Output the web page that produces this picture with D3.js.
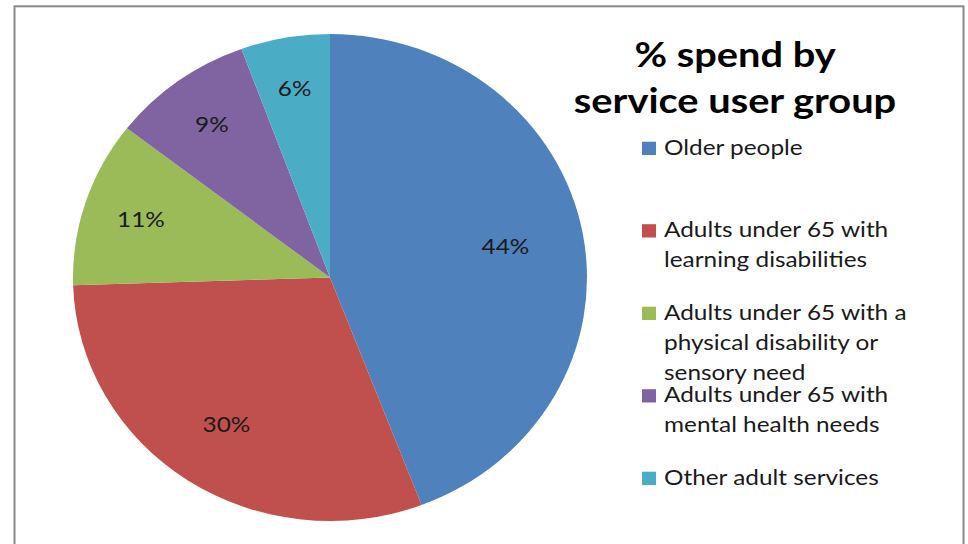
<!DOCTYPE html>
<html><head><meta charset="utf-8">
<script src="https://cdn.jsdelivr.net/npm/d3@7"></script>
<style>html,body{margin:0;padding:0;background:#fff;}svg{display:block;}</style>
</head><body>
<svg id="c" width="968" height="544"></svg>
<script>
const categories = ["Older people","Adults under 65 with learning disabilities","Adults under 65 with a physical disability or sensory need","Adults under 65 with mental health needs","Other adult services"];
const legendLines = [["Older people"],["Adults under 65 with","learning disabilities"],["Adults under 65 with a","physical disability or","sensory need"],["Adults under 65 with","mental health needs"],["Other adult services"]];
const values = [44.2, 30.3, 11.0, 8.9, 5.6];
const labels = ["44%","30%","11%","9%","6%"];
const colors = ["#4F81BD","#C0504D","#9BBB59","#8064A2","#4BACC6"];
const titleLines = ["% spend by","service user group"];

const FONT = "Lato, 'Open Sans', sans-serif";
const SX = 1.16;
const svg = d3.select("#c");
svg.append("rect").attr("x",14.5).attr("y",6.3).attr("width",949).attr("height",700)
  .attr("fill","#fff").attr("stroke","#898989").attr("stroke-width",2);

const cx = 330, cy = 277.5, rx = 257, ry = 243.5;
const R = 100;
const pie = d3.pie().sort(null).value(d=>d);
const arcs = pie(values);
const arc = d3.arc().innerRadius(0).outerRadius(R);
const g = svg.append("g").attr("transform",`translate(${cx},${cy})`);
const gs = g.append("g").attr("transform",`scale(${rx/R},${ry/R})`);
gs.selectAll("path").data(arcs).enter().append("path")
  .attr("d",arc).attr("fill",(d,i)=>colors[i]);

const lf = d=>0.80-0.24*(d.value/100);
g.selectAll("text").data(arcs).enter().append("text")
  .attr("transform",d=>{const a=(d.startAngle+d.endAngle)/2; const x=Math.sin(a)*rx*lf(d), y=-Math.cos(a)*ry*lf(d); return `translate(${x},${y}) scale(${SX},1)`;})
  .attr("text-anchor","middle").attr("dy","0.36em")
  .attr("font-family",FONT).attr("font-size",21).attr("fill","#1a1a1a")
  .text((d,i)=>labels[i]);

const tg = svg.append("g").attr("transform",`translate(735,0) scale(1.17,1)`);
const t = tg.append("text").attr("text-anchor","middle")
  .attr("font-family",FONT).attr("font-weight","bold").attr("font-size",34).attr("fill","#000");
titleLines.forEach((l,i)=>t.append("tspan").attr("x",0).attr("y",67+i*46.5).text(l));

const lg = svg.append("g");
legendLines.forEach((lines,i)=>{
  const by = 155 + i*82.5;
  lg.append("rect").attr("x",642).attr("y",by-13.3).attr("width",14).attr("height",13.3).attr("fill",colors[i]);
  const tx = lg.append("g").attr("transform",`translate(664,0) scale(${SX},1)`).append("text")
    .attr("font-family",FONT).attr("font-size",21).attr("fill","#1a1a1a");
  lines.forEach((l,j)=>tx.append("tspan").attr("x",0).attr("y",by+j*30).text(l));
});
</script>
</body></html>
